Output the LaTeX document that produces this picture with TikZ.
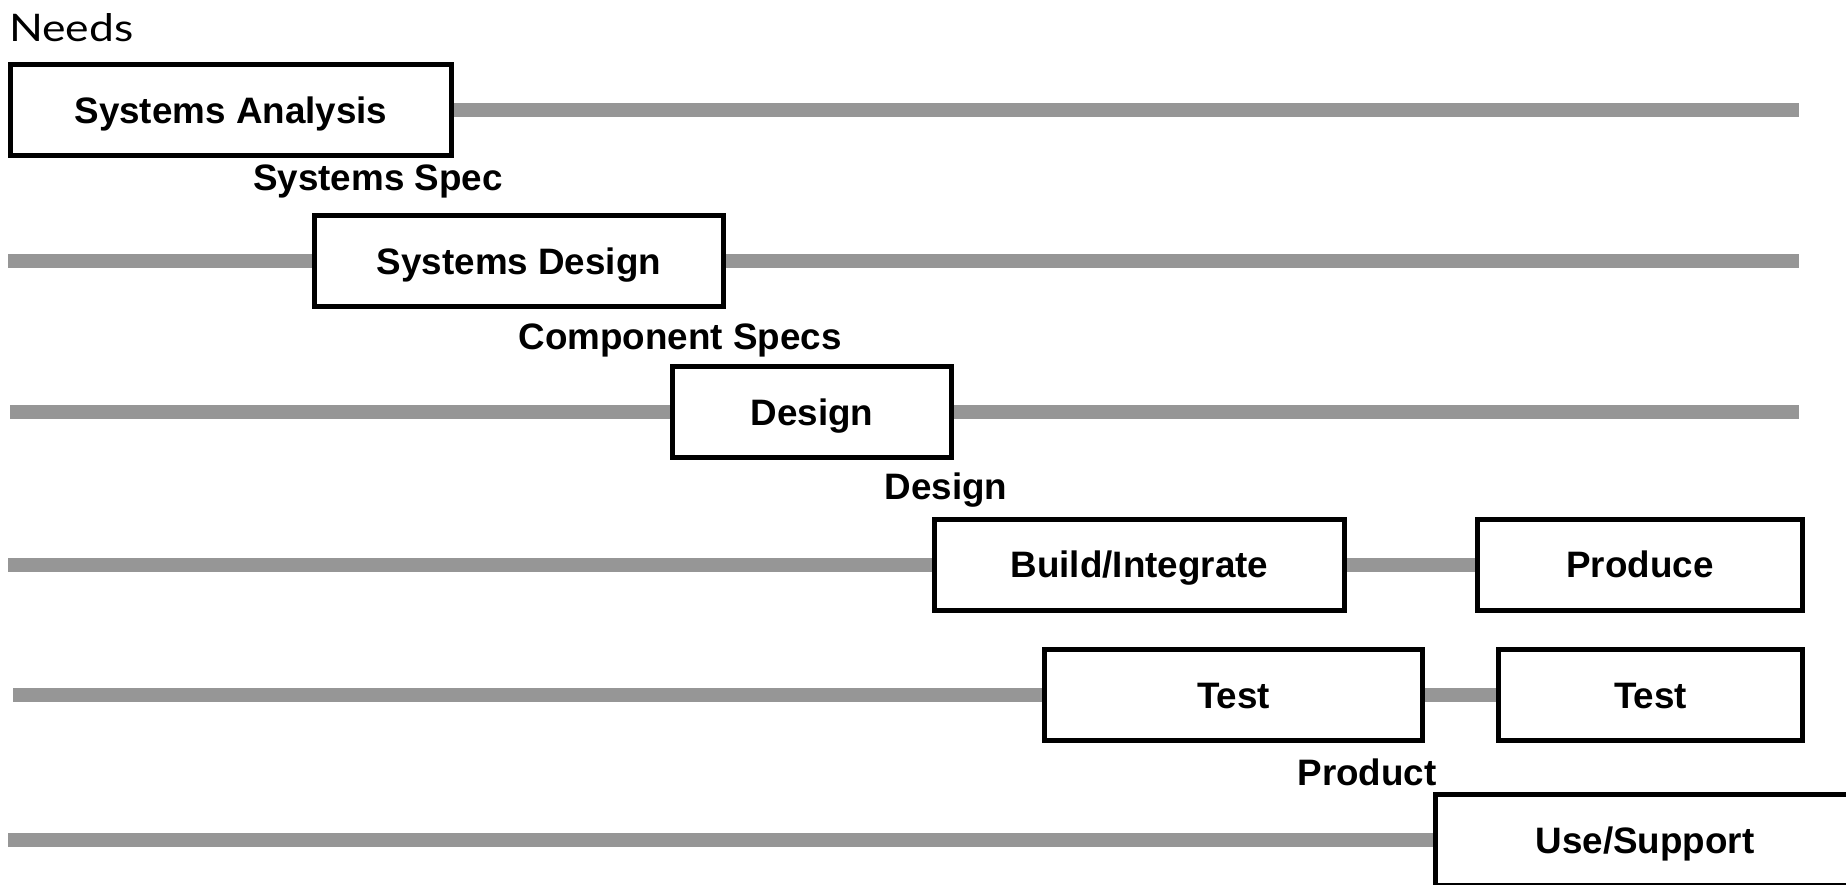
\documentclass[tikz,border=0pt]{standalone}
\usepackage{fontspec}
\usepackage{graphicx}
\setmainfont{Liberation Sans}
\newfontfamily\needsfont{Lato}
\usetikzlibrary{backgrounds}
\definecolor{bargray}{RGB}{150,150,150}
\begin{document}
\begin{tikzpicture}[x=1pt,y=-1pt,
  phase/.style={draw=black, line width=5pt, fill=white, inner sep=0pt,
    minimum height=91pt, text height=26.3pt, text depth=0pt,
    font=\fontsize{36.8}{40}\selectfont\bfseries},
  doclabel/.style={inner sep=0pt, anchor=base, font=\fontsize{36.8}{40}\selectfont\bfseries},
  bar/.style={draw=bargray, line width=14pt}]
\useasboundingbox (0,0) rectangle (1846,885);
\clip (0,0) rectangle (1846,885);

\node[anchor=base west, inner sep=0pt, font=\needsfont\fontsize{38}{40}\selectfont] (needs) at (9,42) {\scalebox{1.17}[1.0]{Needs}};

\node[phase, minimum width=441pt] (sa) at (231,110) {Systems Analysis};
\node[phase, minimum width=409pt] (sd) at (519,261) {Systems Design};
\node[phase, minimum width=279pt] (de) at (812,412) {Design};
\node[phase, minimum width=410pt] (bi) at (1139.5,564.5) {Build/Integrate};
\node[phase, minimum width=325pt] (pr) at (1640,564.5) {Produce};
\node[phase, minimum width=378pt] (t1) at (1233.5,695) {Test};
\node[phase, minimum width=304pt] (t2) at (1650.5,695) {Test};
\node[phase, minimum width=419pt] (us) at (1645,840) {Use/Support};

\node[doclabel] (spec) at (378,191) {Systems Spec};
\node[doclabel] (cspec) at (680,349) {Component Specs};
\node[doclabel] (dlab) at (946,499) {Design};
\node[doclabel] (prod) at (1367,785) {Product};

\coordinate (r1e) at (1799,110);
\coordinate (r2w) at (8,261);
\coordinate (r2e) at (1799,261);
\coordinate (r3w) at (10,412);
\coordinate (r3e) at (1799,412);
\coordinate (r4w) at (8,564.5);
\coordinate (r5w) at (13,695);
\coordinate (r6w) at (8,840);

\begin{scope}[on background layer]
\draw[bar] (sa.east) -- (r1e);
\draw[bar] (r2w) -- (sd.west);
\draw[bar] (sd.east) -- (r2e);
\draw[bar] (r3w) -- (de.west);
\draw[bar] (de.east) -- (r3e);
\draw[bar] (r4w) -- (bi.west);
\draw[bar] (bi.east) -- (pr.west);
\draw[bar] (r5w) -- (t1.west);
\draw[bar] (t1.east) -- (t2.west);
\draw[bar] (r6w) -- (us.west);
\end{scope}
\end{tikzpicture}
\end{document}
